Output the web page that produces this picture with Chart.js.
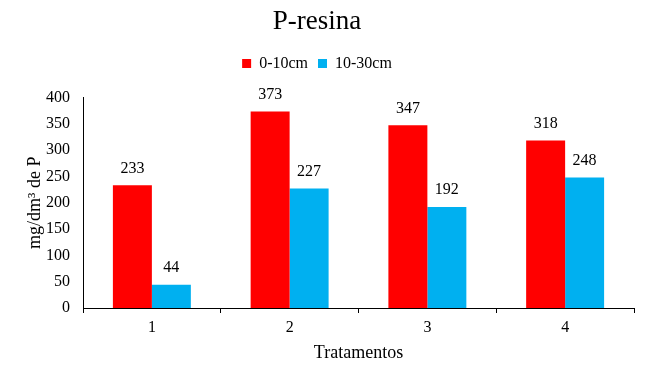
<!DOCTYPE html>
<html lang="pt">
<head>
  <meta charset="UTF-8">
  <title>P-resina</title>
  <script src="https://cdn.jsdelivr.net/npm/chart.js"></script>
  <style>
    html, body { margin: 0; padding: 0; background: #fff; }
    #chart-wrap { width: 658px; height: 374px; }
  </style>
</head>
<body>
  <div id="chart-wrap"><canvas id="myChart"></canvas></div>
  <script>
    // dados
    const tratamentos = ['1', '2', '3', '4'];
    const prof0a10 = [233, 373, 347, 318];
    const prof10a30 = [44, 227, 192, 248];
    const yTicks = [0, 50, 100, 150, 200, 250, 300, 350, 400];

    const serif = "'Liberation Serif', 'Times New Roman', serif";

    // rótulos de valor acima das barras
    const valueLabels = {
      id: 'valueLabels',
      afterDatasetsDraw(chart) {
        const ctx = chart.ctx;
        ctx.save();
        ctx.font = '16px ' + serif;
        ctx.fillStyle = '#000';
        ctx.textAlign = 'center';
        ctx.textBaseline = 'middle';
        chart.data.datasets.forEach((ds, i) => {
          chart.getDatasetMeta(i).data.forEach((bar, j) => {
            ctx.fillText(ds.data[j], bar.x, bar.y - 17);
          });
        });
        ctx.restore();
      }
    };

    // espaço vazio entre a legenda e a área do gráfico
    const spacer = {
      id: 'spacer',
      beforeInit(chart) {
        Chart.layouts.addBox(chart, {
          position: 'top',
          weight: 0,
          fullSize: true,
          options: {},
          width: 0,
          height: 0,
          isHorizontal() { return true; },
          update(maxWidth) { this.width = maxWidth; this.height = 16; },
          draw() {}
        });
      }
    };

    const ctx = document.getElementById('myChart').getContext('2d');
    new Chart(ctx, {
      type: 'bar',
      data: {
        labels: tratamentos,
        datasets: [
          { label: '0-10cm', data: prof0a10, backgroundColor: '#FF0000' },
          { label: '10-30cm', data: prof10a30, backgroundColor: '#00B0F0' }
        ]
      },
      options: {
        responsive: true,
        maintainAspectRatio: false,
        animation: false,
        layout: { padding: { left: 0, right: 24, top: 0, bottom: 0 } },
        datasets: {
          bar: { categoryPercentage: 0.566, barPercentage: 1.0 }
        },
        plugins: {
          title: {
            display: true,
            text: 'P-resina',
            color: '#000',
            font: { family: serif, size: 27, weight: 'normal' },
            padding: { top: 6, bottom: 7 }
          },
          legend: {
            display: true,
            labels: {
              color: '#000',
              font: { family: serif, size: 16 },
              boxWidth: 9,
              boxHeight: 9,
              padding: 10
            }
          },
          tooltip: { enabled: false }
        },
        scales: {
          x: {
            grid: { display: true, drawOnChartArea: false, drawTicks: true, tickLength: 5, color: '#000', offset: true },
            border: { display: true, color: '#000', width: 1 },
            ticks: { color: '#000', font: { family: serif, size: 16 }, padding: 5 },
            title: {
              display: true,
              text: 'Tratamentos',
              color: '#000',
              font: { family: serif, size: 18 },
              padding: { top: 0, bottom: 10 }
            },
            afterFit(scale) { scale.height = 66; }
          },
          y: {
            min: 0,
            max: 400,
            afterBuildTicks(scale) { scale.ticks = yTicks.map(v => ({ value: v })); },
            grid: { display: false, drawTicks: false },
            border: { display: true, color: '#000', width: 1 },
            ticks: { color: '#000', font: { family: serif, size: 16 }, padding: 13 },
            title: {
              display: true,
              text: 'mg/dm³ de P',
              color: '#000',
              font: { family: serif, size: 18 },
              padding: { top: 24, bottom: 0 }
            },
            afterFit(scale) { scale.width = 83; }
          }
        }
      },
      plugins: [valueLabels, spacer]
    });
  </script>
</body>
</html>
